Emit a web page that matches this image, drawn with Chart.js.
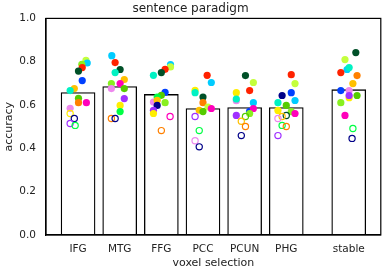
<!DOCTYPE html>
<html>
<head>
<meta charset="utf-8">
<script src="https://cdn.jsdelivr.net/npm/chart.js@4.4.1/dist/chart.umd.min.js"></script>
<style>
  html, body { margin: 0; padding: 0; background: #fff; }
  #wrap { width: 386px; height: 270px; }
</style>
</head>
<body>
<div id="wrap"><canvas id="chart"></canvas></div>
<script>
// categories and their x positions (stable sits a bit apart)
const categories = ["IFG", "MTG", "FFG", "PCC", "PCUN", "PHG", "stable"];
const positions = [0, 1, 2, 3, 4, 5, 6.5];

// mean accuracy per selection (bar heights)
const meanAcc = [0.658, 0.685, 0.649, 0.584, 0.588, 0.588, 0.671];

// one colour per subject
const subjectColors = [
  "#005028", "#ff2200", "#0040ff", "#00f2c3", "#00ccff", "#ffc000",
  "#ffee00", "#c4ff3c", "#88f020", "#55cc00", "#00ff44", "#ff8000",
  "#ff00bb", "#ee88ee", "#a030ff", "#000088"
];

// per subject points: [subject, jitter, accuracy, significant]
const ifgPts = [
  [7, 0.19, 0.806, 1], [4, 0.22, 0.794, 1], [8, 0.09, 0.788, 1], [1, 0.10, 0.773, 1],
  [0, 0.01, 0.757, 1], [2, 0.10, 0.713, 1], [5, -0.09, 0.676, 1], [3, -0.19, 0.667, 1],
  [9, 0.01, 0.631, 1], [11, 0.01, 0.611, 1], [12, 0.20, 0.611, 1], [13, -0.19, 0.585, 1],
  [6, -0.19, 0.561, 0], [15, -0.09, 0.538, 0], [14, -0.19, 0.515, 0], [10, -0.07, 0.506, 0]
];
const mtgPts = [
  [4, -0.19, 0.828, 1], [1, -0.11, 0.796, 1], [0, 0.01, 0.764, 1], [3, -0.11, 0.750, 1],
  [5, 0.11, 0.718, 1], [8, -0.20, 0.699, 1], [12, 0.01, 0.699, 1], [13, -0.20, 0.676, 1],
  [9, 0.11, 0.676, 1], [14, 0.11, 0.630, 1], [6, 0.01, 0.598, 1], [10, 0.01, 0.570, 1],
  [11, -0.20, 0.538, 0], [15, -0.11, 0.538, 0]
];
const ffgPts = [
  [4, 0.22, 0.787, 1], [7, 0.22, 0.776, 1], [1, 0.09, 0.765, 1], [0, 0.00, 0.750, 1],
  [3, -0.19, 0.737, 1], [2, 0.09, 0.659, 1], [9, 0.00, 0.645, 1], [10, -0.10, 0.637, 1],
  [13, -0.19, 0.614, 1], [5, -0.10, 0.622, 1], [8, 0.09, 0.611, 1], [15, -0.10, 0.598, 1],
  [14, -0.19, 0.576, 1], [6, -0.19, 0.561, 1], [12, 0.21, 0.547, 0], [11, 0.00, 0.482, 0]
];
const pccPts = [
  [1, 0.10, 0.737, 1], [4, 0.20, 0.704, 1], [6, -0.19, 0.668, 1], [3, -0.19, 0.657, 1],
  [0, 0.00, 0.637, 1], [11, 0.00, 0.611, 1], [7, 0.12, 0.591, 1], [5, -0.09, 0.576, 1],
  [9, 0.00, 0.570, 1], [12, 0.20, 0.584, 1], [14, -0.19, 0.547, 0], [10, -0.09, 0.482, 0],
  [13, -0.19, 0.435, 0], [15, -0.09, 0.407, 0]
];
const pcunPts = [
  [0, 0.02, 0.736, 1], [7, 0.21, 0.704, 1], [1, 0.12, 0.667, 1], [6, -0.20, 0.657, 1],
  [13, -0.20, 0.620, 1], [3, -0.20, 0.628, 1], [4, 0.21, 0.611, 1], [2, 0.12, 0.571, 1],
  [12, 0.21, 0.584, 1], [8, 0.12, 0.561, 1], [14, -0.20, 0.552, 1], [9, 0.02, 0.547, 0],
  [5, -0.08, 0.525, 0], [11, 0.02, 0.501, 0], [15, -0.08, 0.459, 0]
];
const phgPts = [
  [1, 0.12, 0.740, 1], [7, 0.21, 0.699, 1], [2, 0.12, 0.657, 1], [15, -0.10, 0.644, 1],
  [4, 0.21, 0.621, 1], [3, -0.20, 0.611, 1], [9, 0.00, 0.598, 1], [6, -0.20, 0.575, 1],
  [8, 0.12, 0.570, 1], [12, 0.21, 0.561, 1], [0, 0.00, 0.552, 0], [5, -0.10, 0.547, 0],
  [13, -0.20, 0.538, 0], [10, -0.10, 0.506, 0], [11, 0.00, 0.501, 0], [14, -0.20, 0.459, 0]
];
const stablePts = [
  [0, 0.17, 0.842, 1], [7, -0.09, 0.810, 1], [4, -0.04, 0.764, 1], [3, 0.01, 0.773, 1],
  [1, -0.19, 0.750, 1], [11, 0.20, 0.736, 1], [5, 0.10, 0.699, 1], [2, -0.19, 0.667, 1],
  [13, 0.01, 0.667, 1], [6, 0.01, 0.634, 1], [14, 0.01, 0.644, 1], [9, 0.20, 0.644, 1],
  [8, -0.19, 0.611, 1], [12, -0.09, 0.552, 1], [10, 0.10, 0.492, 0], [15, 0.08, 0.446, 0]
];
const groupPts = [ifgPts, mtgPts, ffgPts, pccPts, pcunPts, phgPts, stablePts];

const yTicks = [0, 0.2, 0.4, 0.6, 0.8, 1.0];

const pointSets = groupPts.map((pts, g) => ({
  type: "scatter",
  order: 1,
  data: pts.map(p => ({ x: positions[g] + p[1], y: p[2] })),
  pointRadius: pts.map(p => p[3] ? 3.6 : 3.1),
  pointBackgroundColor: pts.map(p => p[3] ? subjectColors[p[0]] : "rgba(0,0,0,0)"),
  pointBorderColor: pts.map(p => subjectColors[p[0]]),
  pointBorderWidth: pts.map(p => p[3] ? 0 : 1.2)
}));

// closes the box on top and right like the axes frame
const frame = {
  id: "frame",
  afterDraw(chart) {
    const { ctx, chartArea: a } = chart;
    ctx.save();
    ctx.strokeStyle = "#000";
    ctx.lineWidth = 1.2;
    ctx.strokeRect(a.left, a.top, a.right - a.left, a.bottom - a.top);
    ctx.restore();
  }
};

new Chart(document.getElementById("chart"), {
  data: {
    datasets: [
      {
        type: "bar",
        order: 2,
        data: positions.map((x, i) => ({ x: x, y: meanAcc[i] })),
        backgroundColor: "#fff",
        borderColor: "#000",
        borderWidth: 1.3,
        borderSkipped: false,
        barThickness: 34
      },
      ...pointSets
    ]
  },
  options: {
    responsive: true,
    maintainAspectRatio: false,
    animation: false,
    layout: { padding: { right: 5, top: 0, left: 0, bottom: 0 } },
    plugins: {
      legend: { display: false },
      tooltip: { enabled: false },
      title: {
        display: true,
        text: "sentence paradigm",
        color: "#222",
        font: { family: "DejaVu Sans", size: 12, weight: "normal" },
        padding: { top: 2, bottom: 2 }
      }
    },
    scales: {
      x: {
        type: "linear",
        offset: false,
        min: -0.77,
        max: 7.27,
        afterBuildTicks: (scale) => { scale.ticks = positions.map(v => ({ value: v })); },
        afterFit: (scale) => { scale.height = 35; },
        ticks: {
          autoSkip: false,
          maxRotation: 0,
          padding: 8,
          color: "#222",
          font: { family: "DejaVu Sans", size: 10.5 },
          callback: (v) => categories[positions.indexOf(v)]
        },
        grid: { display: false, drawTicks: false, offset: false },
        border: { color: "#000", width: 1.2 },
        title: {
          display: true,
          text: "voxel selection",
          color: "#222",
          font: { family: "DejaVu Sans", size: 11 },
          padding: { top: 0, bottom: 0.5 }
        }
      },
      y: {
        min: 0,
        max: 1,
        afterBuildTicks: (scale) => { scale.ticks = yTicks.map(v => ({ value: v })); },
        afterFit: (scale) => { scale.width = 46; },
        ticks: {
          padding: 10,
          color: "#222",
          font: { family: "DejaVu Sans", size: 10.5 },
          callback: (v) => v.toFixed(1)
        },
        grid: { display: false, drawTicks: false },
        border: { color: "#000", width: 1.2 },
        title: {
          display: true,
          text: "accuracy",
          color: "#222",
          font: { family: "DejaVu Sans", size: 11 },
          padding: { top: 2.5, bottom: 0 }
        }
      }
    }
  },
  plugins: [frame]
});
</script>
</body>
</html>
